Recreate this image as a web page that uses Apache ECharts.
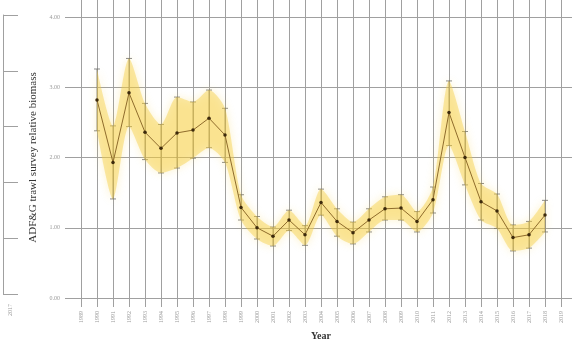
<!DOCTYPE html>
<html>
<head>
<meta charset="utf-8">
<script src="https://cdn.jsdelivr.net/npm/echarts@6/dist/echarts.min.js"></script>
<style>
  html, body { margin: 0; padding: 0; background: #fff; }
  #chart { width: 572px; height: 346px; }
</style>
</head>
<body>
<div id="chart"></div>
<script>
// Year tick labels along the bottom
var tickYears = ['1989', '1990', '1991', '1992', '1993', '1994', '1995', '1996', '1997', '1998',
                 '1999', '2000', '2001', '2002', '2003', '2004', '2005', '2006', '2007', '2008',
                 '2009', '2010', '2011', '2012', '2013', '2014', '2015', '2016', '2017', '2018', '2019'];
// Survey years with an estimate
var years = ['1990', '1991', '1992', '1993', '1994', '1995', '1996', '1997', '1998', '1999',
             '2000', '2001', '2002', '2003', '2004', '2005', '2006', '2007', '2008', '2009',
             '2010', '2011', '2012', '2013', '2014', '2015', '2016', '2017', '2018'];
// Relative biomass index
var biomass = [2.82, 1.93, 2.92, 2.36, 2.13, 2.35, 2.39, 2.56, 2.32, 1.29,
               1.00, 0.88, 1.11, 0.90, 1.36, 1.09, 0.93, 1.11, 1.27, 1.28,
               1.09, 1.40, 2.64, 2.00, 1.37, 1.24, 0.86, 0.90, 1.18];
// Upper and lower interval bounds
var upper = [3.26, 2.45, 3.41, 2.77, 2.47, 2.86, 2.79, 2.96, 2.70, 1.47,
             1.16, 1.01, 1.25, 1.03, 1.55, 1.27, 1.08, 1.27, 1.44, 1.47,
             1.23, 1.58, 3.09, 2.37, 1.63, 1.48, 1.04, 1.09, 1.39];
var lower = [2.38, 1.41, 2.44, 1.97, 1.78, 1.85, 1.99, 2.14, 1.93, 1.11,
             0.84, 0.74, 0.96, 0.75, 1.18, 0.88, 0.77, 0.94, 1.11, 1.11,
             0.94, 1.21, 2.17, 1.61, 1.11, 0.99, 0.67, 0.71, 0.94];
// Value axis ticks
var yTicks = [0, 1, 2, 3, 4];
var sideCategory = ['2017'];

var serif = '"Liberation Serif", "DejaVu Serif", serif';
var gridColor = '#a0a0a0';

// Align each series with the full run of tick years (gaps where no survey)
function onTicks(values) {
  return tickYears.map(function (t) {
    var i = years.indexOf(t);
    return i < 0 ? null : values[i];
  });
}
var lowerSeries = onTicks(lower);
var spanSeries = onTicks(upper.map(function (u, i) { return +(u - lower[i]).toFixed(2); }));
var meanSeries = onTicks(biomass);
var barPts = years.map(function (y, i) { return [y, lower[i], upper[i]]; });

var chart = echarts.init(document.getElementById('chart'), null, { renderer: 'canvas' });

chart.setOption({
  animation: false,
  backgroundColor: '#fff',
  grid: [
    // 0: vertical year lines and labels
    { left: 81, right: 11, top: 0, bottom: 35 },
    // 1: horizontal value lines and labels
    { left: 65, right: 0, top: 17, bottom: 48 },
    // 2: data
    { left: 81, right: 11, top: 17, bottom: 48 },
    // 3: narrow side axis
    { left: 3, width: 15, top: 15, bottom: 52 }
  ],
  xAxis: [
    {
      gridIndex: 0, type: 'category', data: tickYears, boundaryGap: false,
      axisLine: { show: false }, axisTick: { show: false },
      splitLine: { show: true, interval: 0, lineStyle: { color: gridColor, width: 1 } },
      axisLabel: { interval: 0, rotate: 90, margin: 4, fontSize: 6, color: '#9a9a9a', fontFamily: serif },
      name: 'Year', nameLocation: 'middle', nameGap: 24,
      nameTextStyle: { fontFamily: serif, fontSize: 10, fontWeight: 'bold', color: '#333' }
    },
    { gridIndex: 1, type: 'value', min: 0, max: 1, show: false },
    { gridIndex: 2, type: 'category', data: tickYears, boundaryGap: false, show: false },
    {
      gridIndex: 3, type: 'category', data: sideCategory, boundaryGap: false,
      axisLine: { show: false }, axisTick: { show: false },
      axisLabel: { rotate: 90, margin: 10, fontSize: 6, color: '#9a9a9a', fontFamily: serif }
    }
  ],
  yAxis: [
    { gridIndex: 0, type: 'value', min: 0, max: 1, show: false },
    {
      gridIndex: 1, type: 'value', min: yTicks[0], max: yTicks[yTicks.length - 1], interval: 1,
      axisLine: { show: false }, axisTick: { show: false },
      splitLine: { show: true, lineStyle: { color: gridColor, width: 1 } },
      axisLabel: {
        margin: 5, fontSize: 6, color: '#9a9a9a', fontFamily: serif,
        formatter: function (v) { return v.toFixed(2); }
      },
      name: 'ADF&G trawl survey relative biomass', nameLocation: 'middle', nameGap: 16,
      nameTextStyle: { fontFamily: serif, fontSize: 11, color: '#333' }
    },
    { gridIndex: 2, type: 'value', min: 0, max: 4, show: false },
    {
      gridIndex: 3, type: 'value', min: 0, max: 5, interval: 1,
      axisLine: { show: true, lineStyle: { color: gridColor, width: 1 } },
      axisTick: { show: false }, axisLabel: { show: false },
      splitLine: { show: true, lineStyle: { color: gridColor, width: 1 } }
    }
  ],
  series: [
    {
      name: 'lowerBand', type: 'line', xAxisIndex: 2, yAxisIndex: 2,
      data: lowerSeries, stack: 'band', smooth: 0.25, symbol: 'none',
      lineStyle: { opacity: 0 }, silent: true
    },
    {
      name: 'band', type: 'line', xAxisIndex: 2, yAxisIndex: 2,
      data: spanSeries, stack: 'band', smooth: 0.25, symbol: 'none',
      lineStyle: { opacity: 0 },
      areaStyle: {
        color: 'rgba(246, 206, 60, 0.6)',
        shadowColor: 'rgba(246, 206, 60, 0.6)', shadowBlur: 9
      },
      silent: true
    },
    {
      name: 'interval', type: 'custom', xAxisIndex: 2, yAxisIndex: 2,
      data: barPts,
      renderItem: function (params, api) {
        var x = api.value(0);
        var lo = api.coord([x, api.value(1)]);
        var hi = api.coord([x, api.value(2)]);
        var cap = 3;
        var style = { stroke: '#6e6e6e', lineWidth: 0.8 };
        return {
          type: 'group',
          children: [
            { type: 'line', shape: { x1: lo[0], y1: lo[1], x2: hi[0], y2: hi[1] }, style: style },
            { type: 'line', shape: { x1: lo[0] - cap, y1: lo[1], x2: lo[0] + cap, y2: lo[1] }, style: style },
            { type: 'line', shape: { x1: hi[0] - cap, y1: hi[1], x2: hi[0] + cap, y2: hi[1] }, style: style }
          ]
        };
      },
      silent: true
    },
    {
      name: 'biomass', type: 'line', xAxisIndex: 2, yAxisIndex: 2,
      data: meanSeries, symbol: 'circle', symbolSize: 3.5,
      lineStyle: { color: '#8f6c2c', width: 1 },
      itemStyle: { color: '#3d2a0c' },
      silent: true
    }
  ]
});
</script>
</body>
</html>
